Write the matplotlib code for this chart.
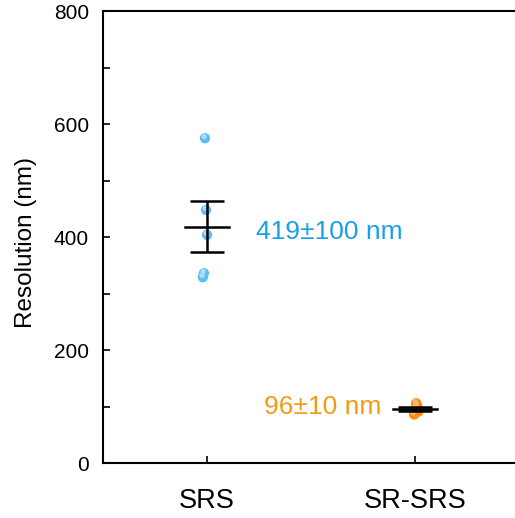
import numpy as np
import matplotlib
matplotlib.use("Agg")
import matplotlib.pyplot as plt
from matplotlib.ticker import MultipleLocator

plt.rcParams['font.family'] = ['Liberation Sans', 'DejaVu Sans']

groups = ["SRS", "SR-SRS"]
srs_vals = [575, 448, 404, 336, 329]
srs_jitter = [-0.01, -0.005, 0.0, -0.015, -0.02]
srsr_vals = [86, 91, 96, 101, 106]
srsr_jitter = [-0.005, 0.015, 0.0, 0.01, 0.005]
labels = ["419±100 nm", "96±10 nm"]

blue = "#5cbdf5"
blue_hi = "#a8defc"
orange = "#ff8a12"
orange_hi = "#ffb868"
blue_txt = "#1aa0e6"
orange_txt = "#f39a10"

fig = plt.figure(figsize=(5.15, 5.18), dpi=100)
ax = fig.add_axes([0.2, 0.106, 0.808, 0.8726])

for i, (vals, jit, c, chi) in enumerate([(srs_vals, srs_jitter, blue, blue_hi),
                                         (srsr_vals, srsr_jitter, orange, orange_hi)]):
    x = i + 1 + np.array(jit)
    ax.scatter(x, vals, s=55, color=c, edgecolors='none', zorder=2)
    ax.scatter(x - 0.004, np.array(vals) + 3, s=15, color=chi, edgecolors='none', zorder=2)
    m = np.mean(vals)
    sem = np.std(vals, ddof=1) / np.sqrt(len(vals))
    ax.plot([i + 1 - 0.106, i + 1 + 0.106], [m, m], color='black', lw=1.8, zorder=3)
    ax.errorbar(i + 1, m, yerr=sem, color='black', capsize=12, elinewidth=1.8,
                capthick=1.8, fmt='none', zorder=3)

ax.text(1.235, 409, labels[0], color=blue_txt, fontsize=19, va='center', ha='left')
ax.text(1.84, 100, labels[1], color=orange_txt, fontsize=19, va='center', ha='right')

ax.set_xlim(0.5, 2.5)
ax.set_ylim(0, 800)
ax.set_xticks([1, 2], groups)
ax.yaxis.set_major_locator(MultipleLocator(200))
ax.yaxis.set_minor_locator(MultipleLocator(100))
ax.tick_params(axis='both', which='both', direction='in', length=5, width=1.2, labelsize=15)
ax.tick_params(axis='x', labelsize=19.5, pad=18)
ax.tick_params(axis='y', pad=10)
ax.spines['right'].set_visible(False)
for s in ['left', 'bottom', 'top']:
    ax.spines[s].set_linewidth(1.5)
ax.set_ylabel("Resolution (nm)", fontsize=17.5)
ax.yaxis.set_label_coords(-0.158, 0.487)

fig.savefig("out.png", dpi=100)
